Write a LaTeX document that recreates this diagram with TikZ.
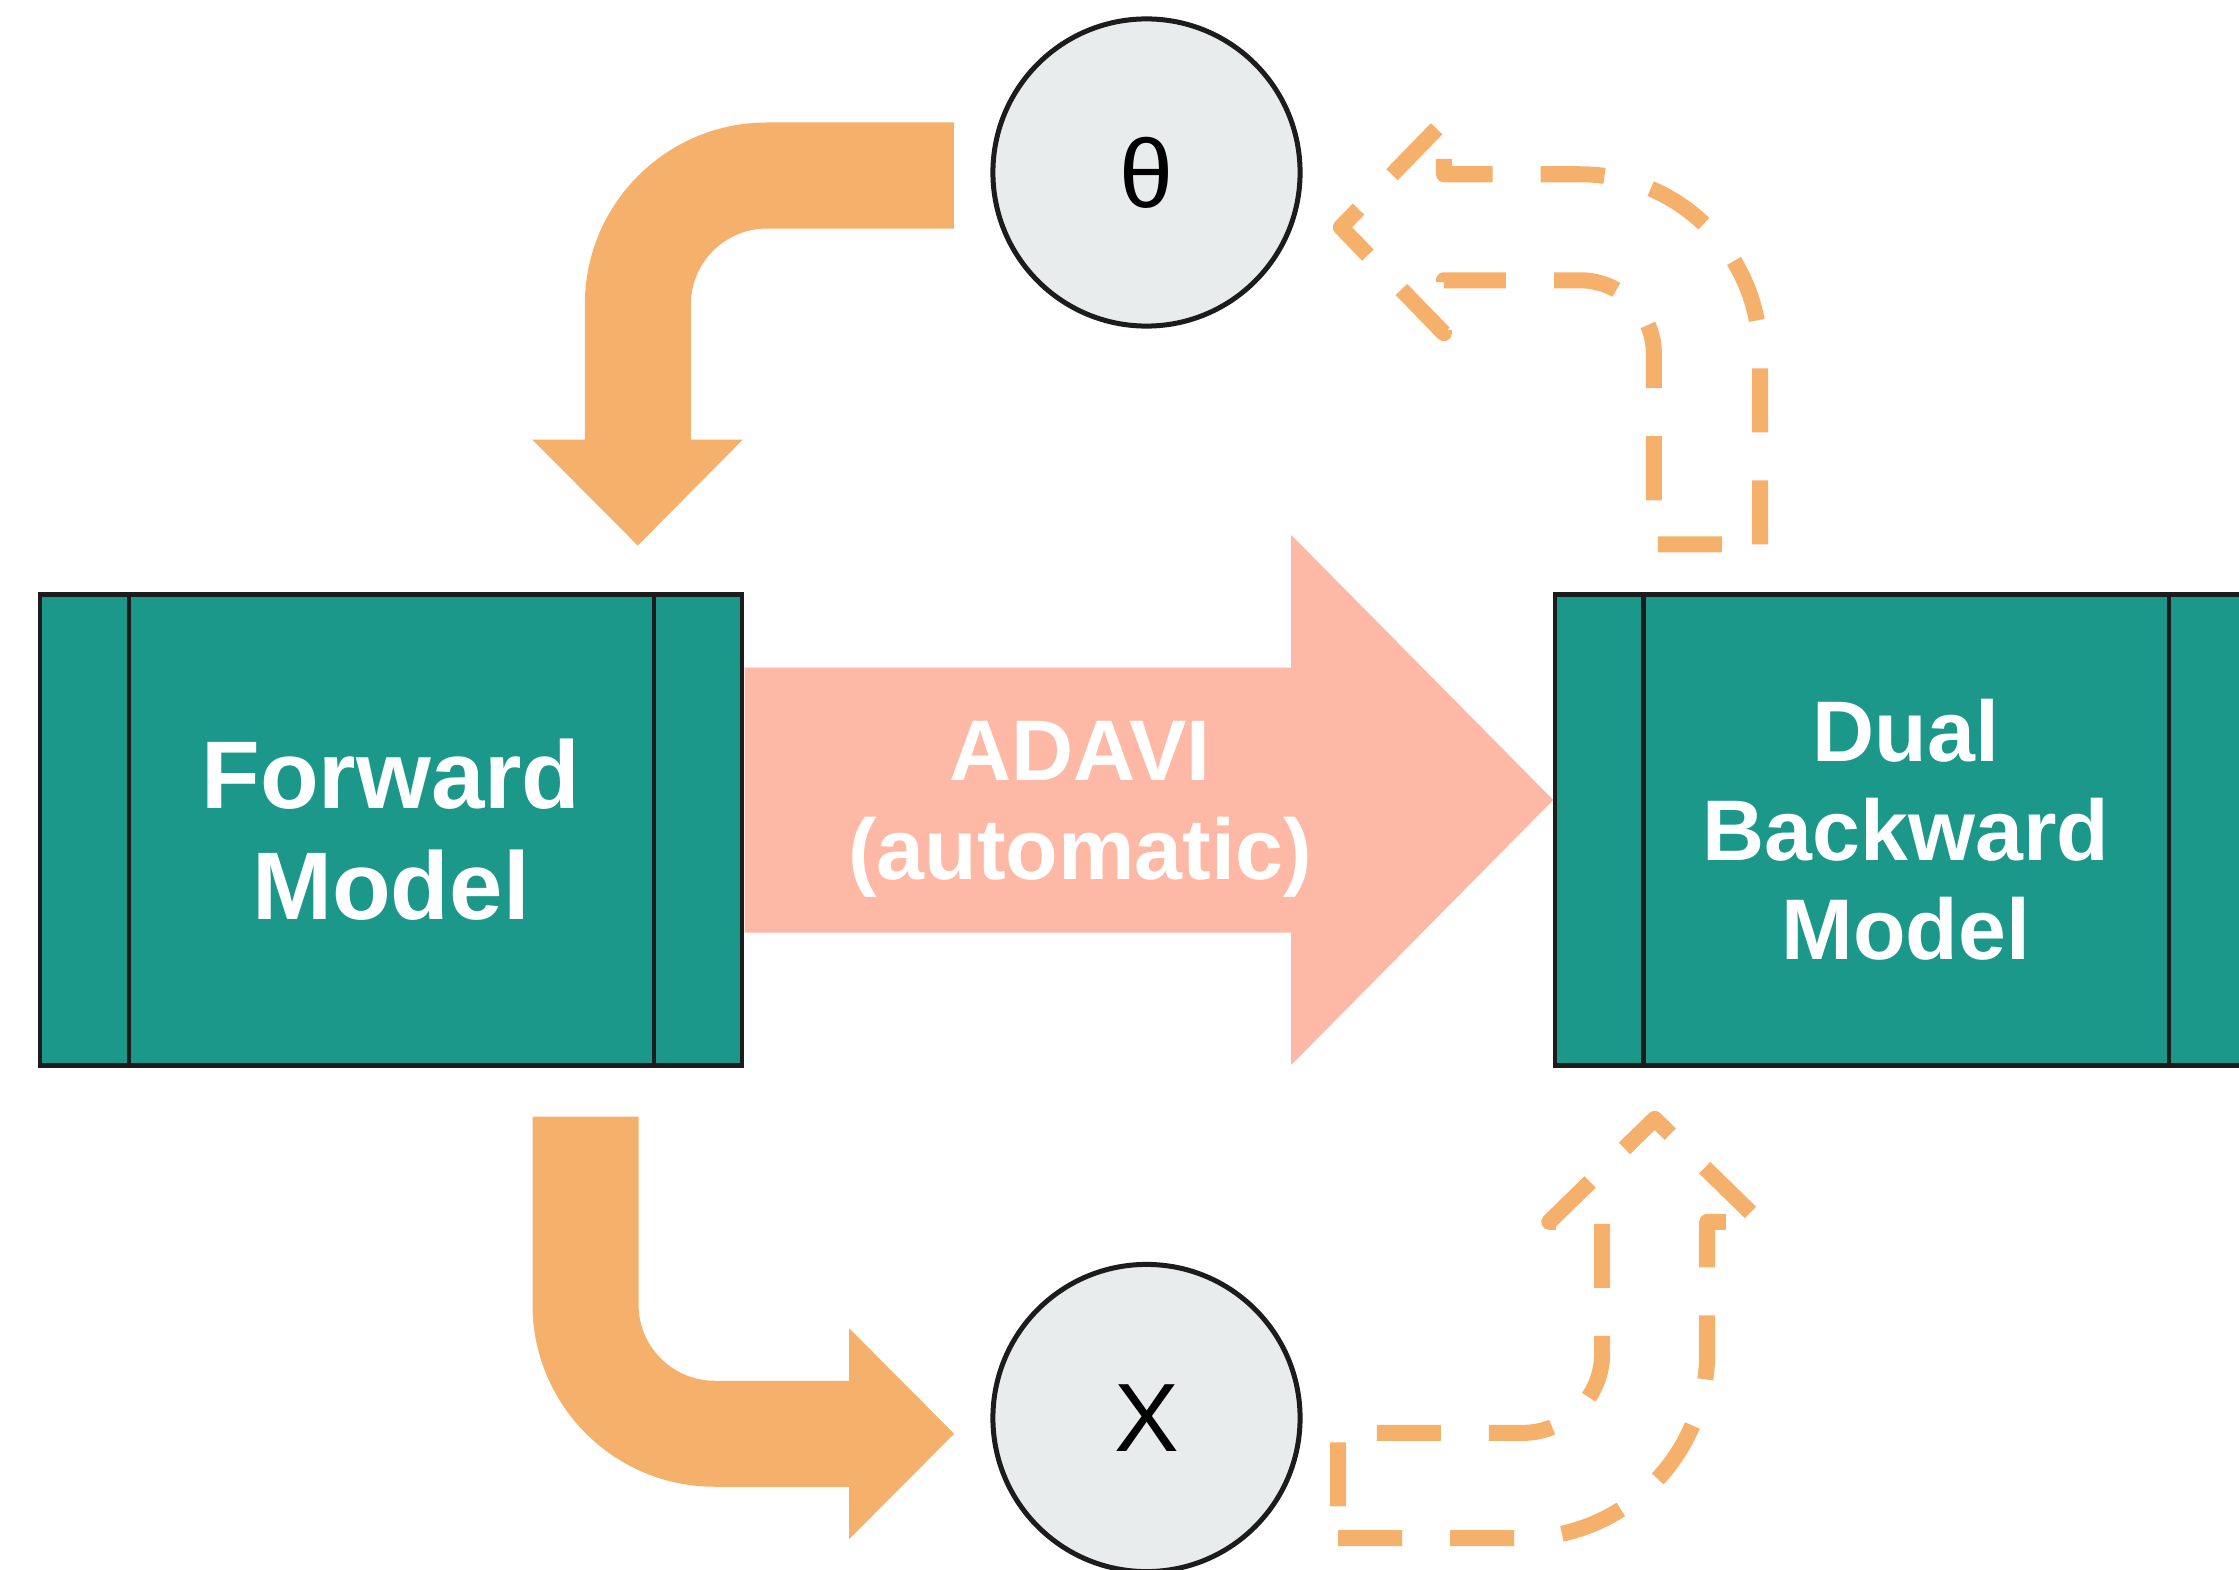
\documentclass[tikz,border=0pt]{standalone}
\usepackage{fontspec}
\setmainfont{Liberation Sans}
\usetikzlibrary{calc}
\definecolor{modelteal}{RGB}{27,152,138}
\definecolor{flowsalmon}{RGB}{253,185,165}
\definecolor{floworange}{RGB}{245,177,107}
\definecolor{varfill}{RGB}{232,236,236}
\definecolor{inkline}{RGB}{28,28,28}
\begin{document}
\begin{tikzpicture}[x=0.01cm, y=-0.01cm,
  modelbox/.style={draw=inkline, line width=0.45mm, fill=modelteal,
    minimum width=70.2mm, minimum height=47.1mm, inner sep=0pt, outer sep=0pt,
    text=white, align=center},
  panelrule/.style={draw=inkline, line width=0.45mm},
  varnode/.style={circle, draw=inkline, line width=0.5mm, fill=varfill,
    minimum size=30.7mm, inner sep=0pt, outer sep=0pt, text=black,
    font=\fontsize{27.6pt}{30pt}\selectfont},
  solidflow/.style={fill=floworange},
  dashflow/.style={draw=floworange, line width=1.6mm,
    dash pattern=on 6.4mm off 4.8mm, line join=round},
  bigflow/.style={fill=flowsalmon},
  bigfont/.style={font=\bfseries\fontsize{27.32pt}{31.58pt}\selectfont},
  midfont/.style={font=\bfseries\fontsize{24.47pt}{28.1pt}\selectfont},
]
\fill[white] (0,0) rectangle (2239,1570);
\useasboundingbox (0,0) rectangle (2239,1570);
\clip (0,0) rectangle (2239,1570);

% model boxes with their side panels
\node[modelbox, bigfont] (fwd) at (391,830) {Forward\\Model};
\node[modelbox, midfont] (dual) at (1906,830) {Dual\\Backward\\Model};
\draw[panelrule] ($(fwd.north west)+(89,0)$) -- ($(fwd.south west)+(89,0)$);
\draw[panelrule] ($(fwd.north east)+(-88,0)$) -- ($(fwd.south east)+(-88,0)$);
\draw[panelrule] ($(dual.north west)+(88.5,0)$) -- ($(dual.south west)+(88.5,0)$);
\draw[panelrule] ($(dual.north east)+(-88,0)$) -- ($(dual.south east)+(-88,0)$);

% variables
\node[varnode] (theta) at (1146.5,172.5) {θ};
\node[varnode] (xvar) at (1146.5,1418) {X};

% ADAVI block arrow between the two models
\coordinate (adaviTail) at ($(fwd.east)+(2.5,-162.5)$);
\fill[bigflow] (adaviTail) -- ++(546.5,0) -- ++(0,-132.5) -- ++(262,265)
  -- ++(-262,265) -- ++(0,-132.5) -- ++(-546.5,0) -- cycle;
\node[text=white, align=center, midfont] (adavi) at (1080,809) {ADAVI\\(automatic)};

% theta feeds the forward model
\coordinate (thetaOut) at ($(theta.west)+(-39,-50)$);
\fill[solidflow] (thetaOut) -- ++(-187,0)
  arc[start angle=90, end angle=180, radius=18.2mm]
  -- ++(0,135) -- ++(-52.5,0) -- ++(105.5,106) -- ++(105,-106) -- ++(-52,0)
  -- ++(0,-135) arc[start angle=180, end angle=90, radius=7.6mm]
  -- ++(187,0) -- cycle;

% forward model produces X
\coordinate (fwdOut) at ($(fwd.south)+(141.5,51)$);
\fill[solidflow] (fwdOut) -- ++(0,188)
  arc[start angle=180, end angle=270, radius=18.2mm]
  -- ++(134.5,0) -- ++(0,52.5) -- ++(105,-105.5) -- ++(-105,-105.5) -- ++(0,52.5)
  -- ++(-134.5,0) arc[start angle=270, end angle=180, radius=7.6mm]
  -- ++(0,-188) -- cycle;

% dual backward model returns theta
\coordinate (dualOut) at ($(dual.north)+(-146,-50)$);
\draw[dashflow] (dualOut) -- ++(0,-190)
  arc[start angle=0, end angle=90, radius=18mm]
  -- ++(-136,0) -- ++(0,-53) -- ++(-103,106) -- ++(103,106) -- ++(0,-53)
  -- ++(136,0) arc[start angle=90, end angle=0, radius=7.4mm]
  -- ++(0,190) -- cycle;

% X is passed to the dual backward model
\coordinate (xOut) at ($(xvar.east)+(38,120)$);
\draw[dashflow] (xOut) -- ++(184,0)
  arc[start angle=270, end angle=360, radius=18.5mm]
  -- ++(0,-131) -- ++(53,0) -- ++(-105.5,-103) -- ++(-105.5,103) -- ++(53,0)
  -- ++(0,131) arc[start angle=0, end angle=-90, radius=8mm]
  -- ++(-184,0) -- cycle;
\end{tikzpicture}
\end{document}
